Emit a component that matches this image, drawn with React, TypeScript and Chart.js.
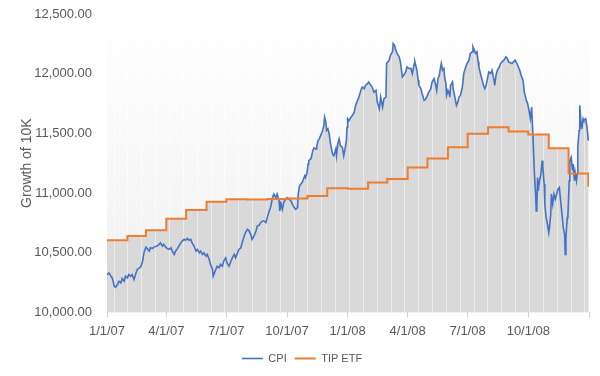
import React, { useEffect, useRef } from 'react';
import { Chart, registerables } from 'chart.js';

Chart.register(...registerables);

// Days since 1/1/2007
const cpiDayOffsets = [
  0, 3, 6, 8, 11, 13, 16, 18, 21, 23, 26, 28, 31, 33, 36, 38, 41, 44, 46, 49,
  51, 54, 56, 59, 61, 64, 66, 69, 71, 76, 79, 81, 84, 86, 89, 91, 94, 97, 99, 102,
  104, 107, 109, 112, 114, 117, 119, 122, 124, 127, 129, 132, 135, 137, 140, 142, 145, 147, 150, 152,
  155, 157, 160, 161, 163, 165, 167, 170, 172, 175, 177, 180, 182, 185, 188, 190, 193, 195, 198, 200,
  203, 205, 208, 210, 213, 215, 218, 220, 223, 226, 228, 231, 233, 236, 238, 241, 243, 246, 248, 251,
  253, 256, 258, 261, 262, 264, 266, 268, 271, 273, 276, 279, 281, 284, 286, 289, 290, 292, 294, 296,
  298, 300, 301, 303, 305, 306, 309, 310, 312, 314, 317, 318, 320, 322, 324, 326, 327, 329, 330, 332,
  333, 335, 337, 339, 342, 344, 347, 348, 350, 352, 354, 357, 359, 361, 363, 364, 365, 367, 370, 372,
  375, 377, 380, 382, 385, 387, 390, 392, 395, 397, 400, 402, 405, 408, 410, 413, 415, 418, 420, 423,
  424, 426, 428, 430, 433, 434, 436, 438, 440, 443, 445, 448, 450, 453, 455, 458, 461, 463, 466, 467,
  470, 472, 473, 476, 478, 481, 483, 486, 488, 491, 493, 496, 498, 500, 502, 504, 506, 507, 509, 511,
  512, 514, 515, 517, 519, 520, 521, 524, 525, 527, 529, 530, 532, 534, 536, 539, 541, 544, 546, 549,
  551, 554, 555, 558, 559, 561, 563, 564, 567, 569, 571, 573, 575, 577, 579, 582, 584, 587, 588, 590,
  592, 595, 597, 599, 602, 605, 607, 609, 614, 619, 624, 626, 628, 631, 633, 636, 638, 640, 642, 644,
  646, 648, 650, 651, 652, 653, 654, 656, 658, 660, 661, 663, 664, 666, 668, 670, 671, 673, 674, 676,
  678, 680, 682, 684, 686, 688, 690, 692, 694, 695, 696, 698, 699, 701, 702, 704, 706, 707, 709, 710,
  712, 713, 714, 716, 717, 719, 720, 722, 723, 726, 728, 730,
];

const cpiValues = [
  10317, 10331, 10303, 10289, 10219, 10210, 10233, 10261, 10247, 10284, 10261, 10303, 10289, 10317, 10303, 10317, 10275, 10331, 10359, 10373,
  10379, 10429, 10499, 10547, 10536, 10513, 10541, 10536, 10547, 10556, 10570, 10583, 10556, 10570, 10547, 10536, 10528, 10541, 10513, 10486,
  10513, 10536, 10556, 10583, 10598, 10612, 10604, 10620, 10604, 10612, 10583, 10556, 10513, 10528, 10499, 10513, 10486, 10499, 10471, 10486,
  10444, 10402, 10359, 10303, 10331, 10359, 10387, 10373, 10402, 10387, 10429, 10457, 10415, 10387, 10429, 10457, 10486, 10457, 10499, 10528,
  10541, 10583, 10640, 10668, 10696, 10688, 10654, 10612, 10640, 10682, 10724, 10732, 10752, 10766, 10766, 10752, 10794, 10850, 10878, 10962,
  10991, 10962, 10991, 10934, 10850, 10907, 10864, 10920, 10949, 10962, 10949, 10934, 10907, 10878, 10864, 10878, 10991, 11061, 11075, 11088,
  11117, 11145, 11130, 11159, 11243, 11271, 11285, 11299, 11355, 11378, 11370, 11389, 11439, 11454, 11481, 11509, 11524, 11566, 11636, 11593,
  11524, 11538, 11496, 11412, 11327, 11313, 11370, 11313, 11412, 11454, 11397, 11383, 11313, 11370, 11439, 11551, 11622, 11608, 11636, 11650,
  11678, 11734, 11776, 11804, 11860, 11888, 11875, 11902, 11917, 11930, 11902, 11888, 11846, 11860, 11762, 11706, 11804, 11720, 11790, 11804,
  12085, 12099, 12113, 12155, 12183, 12253, 12239, 12197, 12169, 12141, 12099, 11972, 11987, 12014, 12056, 12043, 12043, 12001, 12085, 12099,
  12029, 11944, 11902, 11875, 11832, 11776, 11785, 11818, 11846, 11875, 11930, 11959, 11917, 11860, 11959, 11987, 12056, 12085, 12029, 12043,
  11972, 11917, 11818, 11860, 11832, 11804, 11902, 11930, 11875, 11818, 11762, 11734, 11762, 11804, 11818, 11888, 12001, 12056, 12085, 12113,
  12169, 12183, 12225, 12183, 12169, 12183, 12099, 12056, 11987, 11944, 11902, 11875, 11902, 11959, 12014, 12001, 12029, 11944, 11902, 11987,
  12029, 12056, 12085, 12099, 12113, 12141, 12130, 12099, 12085, 12113, 12056, 12029, 11987, 11944, 11843, 11776, 11748, 11692, 11625, 11720,
  11481, 11187, 10991, 10850, 10907, 11130, 11019, 11103, 11159, 11271, 11215, 11075, 10907, 10794, 10738, 10668, 10710, 10822, 10991, 10907,
  10991, 10949, 10991, 11033, 11046, 10934, 10822, 10710, 10654, 10486, 10625, 10794, 10808, 11103, 11271, 11299, 11187, 11243, 11103, 11173,
  11103, 11159, 11383, 11524, 11734, 11580, 11538, 11622, 11608, 11622, 11551, 11439,
];

const tipDayOffsets = [0, 31, 59, 90, 120, 151, 181, 212, 243, 273, 304, 334, 365, 396, 425, 456, 486, 517, 547, 578, 609, 639, 670, 700, 730];
const tipValues = [10605, 10640, 10688, 10785, 10858, 10926, 10949, 10945, 10950, 10955, 10976, 11040, 11035, 11088, 11117, 11215, 11290, 11383, 11496, 11551, 11515, 11490, 11376, 11164, 11052];

const xTickDays = [0, 90, 181, 273, 365, 456, 547, 639, 731];
const xTickLabels = ['1/1/07', '4/1/07', '7/1/07', '10/1/07', '1/1/08', '4/1/08', '7/1/08', '10/1/08', ''];
const yTickValues = [10000, 10500, 11000, 11500, 12000, 12500];
const seriesNames = ['CPI', 'TIP ETF'];
const yAxisTitle = 'Growth of 10K';

const FONT = "'Liberation Sans', Arial, sans-serif";
const TEXT = '#595959';
const FILL = '#d9d9d9';

export default function App() {
  const ref = useRef<HTMLCanvasElement>(null);

  useEffect(() => {
    if (!ref.current) return;

    const areaBg = {
      id: 'areaBg',
      beforeDraw(chart: any) {
        const { ctx, chartArea: a } = chart;
        const g = ctx.createLinearGradient(0, a.top, 0, a.bottom);
        g.addColorStop(0, '#ffffff');
        g.addColorStop(1, '#f0f0f0');
        ctx.save();
        ctx.fillStyle = g;
        ctx.fillRect(a.left, a.top, a.right - a.left, a.bottom - a.top);
        ctx.restore();
      },
    };

    const seams = {
      id: 'seams',
      beforeDatasetsDraw(chart: any) {
        const { ctx, chartArea: a, scales } = chart;
        const xs = scales.x;
        ctx.save();
        ctx.strokeStyle = 'rgba(255,255,255,0.5)';
        ctx.lineWidth = 1;
        for (let d = 10; d < 731; d += 21) {
          const px = Math.round(xs.getPixelForValue(d)) + 0.5;
          ctx.beginPath();
          ctx.moveTo(px, a.top);
          ctx.lineTo(px, a.bottom);
          ctx.stroke();
        }
        ctx.restore();
      },
    };

    const chart = new Chart(ref.current, {
      type: 'line',
      data: {
        datasets: [
          {
            label: seriesNames[0],
            data: cpiDayOffsets.map((d, i) => ({ x: d, y: cpiValues[i] })),
            borderColor: '#4472c4',
            backgroundColor: FILL,
            borderWidth: 1.6,
            fill: 'origin',
            pointRadius: 0,
            tension: 0,
            order: 1,
          },
          {
            label: seriesNames[1],
            data: tipDayOffsets.map((d, i) => ({ x: d, y: tipValues[i] })),
            borderColor: '#ed7d31',
            backgroundColor: FILL,
            borderWidth: 2,
            fill: 'origin',
            stepped: true,
            pointRadius: 0,
            order: 0,
          },
        ],
      },
      options: {
        animation: false,
        responsive: true,
        maintainAspectRatio: false,
        events: [],
        layout: { padding: { left: 15, right: 11, top: 14, bottom: 2 } },
        plugins: {
          filler: { drawTime: 'beforeDatasetsDraw' },
          tooltip: { enabled: false },
          legend: {
            position: 'bottom',
            labels: {
              usePointStyle: true,
              pointStyle: 'line',
              pointStyleWidth: 21,
              color: TEXT,
              font: { family: FONT, size: 11 },
              padding: 8,
              sort: (a: any, b: any) => a.datasetIndex - b.datasetIndex,
            },
          },
        },
        scales: {
          x: {
            type: 'linear',
            min: 0,
            max: 731,
            afterBuildTicks: (s: any) => {
              s.ticks = xTickDays.map((v) => ({ value: v }));
            },
            ticks: {
              autoSkip: false,
              maxRotation: 0,
              color: TEXT,
              font: { family: FONT, size: 13 },
              padding: 6,
              callback: (v: any) => xTickLabels[xTickDays.indexOf(Number(v))] ?? '',
            },
            grid: { drawOnChartArea: false, drawTicks: true, tickLength: 5, color: '#d0d0d0' },
            border: { display: false },
          },
          y: {
            type: 'linear',
            min: 10000,
            max: 12500,
            afterBuildTicks: (s: any) => {
              s.ticks = yTickValues.map((v) => ({ value: v }));
            },
            afterFit: (s: any) => {
              s.width = 92;
            },
            ticks: {
              color: TEXT,
              font: { family: FONT, size: 13 },
              padding: 3,
              callback: (v: any) =>
                Number(v).toLocaleString('en-US', { minimumFractionDigits: 2, maximumFractionDigits: 2 }),
            },
            grid: { display: false, drawTicks: true, tickLength: 12 },
            border: { display: false },
            title: { display: true, text: yAxisTitle, color: TEXT, font: { family: FONT, size: 14 } },
          },
        },
      },
      plugins: [areaBg, seams],
    });

    return () => chart.destroy();
  }, []);

  return (
    <div style={{ position: 'fixed', left: 0, top: 0, width: 600, height: 376, background: '#fff' }}>
      <canvas ref={ref} />
    </div>
  );
}
